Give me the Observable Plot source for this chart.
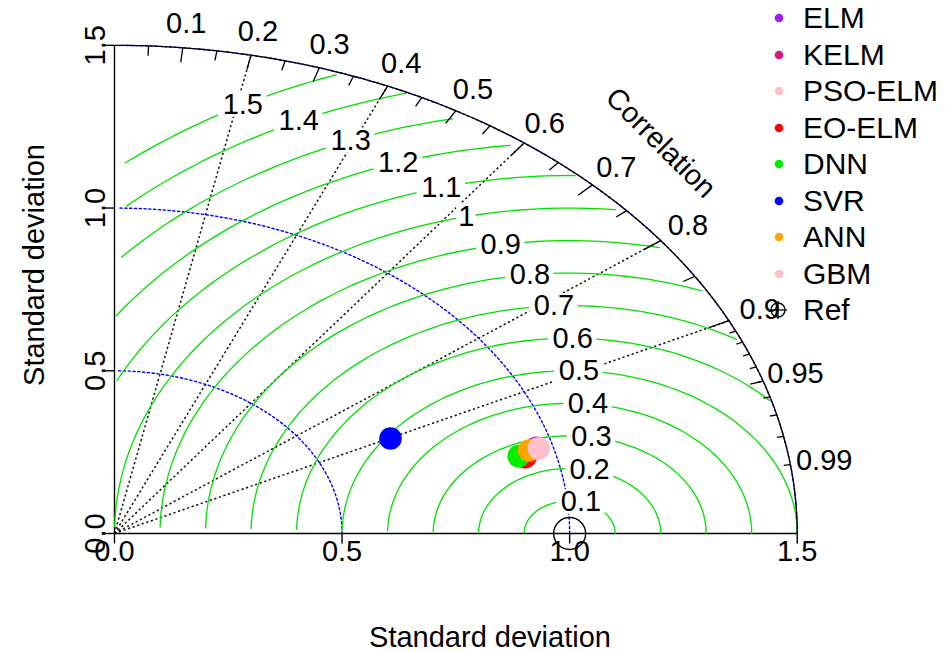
<!DOCTYPE html>
<html>
<head>
<meta charset="utf-8">
<script src="https://cdn.jsdelivr.net/npm/d3@7"></script>
<script src="https://cdn.jsdelivr.net/npm/@observablehq/plot@0.6"></script>
<style>
  html, body { margin: 0; padding: 0; background: #ffffff; }
  #wrap { position: relative; width: 945px; height: 651px; font-family: "Liberation Sans", Arial, sans-serif; }
  #legend { position: absolute; left: 0; top: 0; width: 945px; height: 651px; pointer-events: none; }
  .lg-row { position: absolute; left: 760px; height: 36px; display: flex; align-items: center; font-size: 30px; color: #000; white-space: nowrap; }
  .lg-row svg { width: 40px; height: 36px; flex: none; }
  .lg-row span { margin-left: 3px; line-height: 36px; }
</style>
</head>
<body>
<div id="wrap"><div id="chart"></div><div id="legend"></div></div>
<script>
// ---------------- data ----------------
const models    = ["ELM", "KELM", "PSO-ELM", "EO-ELM", "DNN", "SVR", "ANN", "GBM"];
const colors    = ["#A020F0", "#DB1580", "#FFC0CB", "#FF0000", "#00EE00", "#0000FF", "#FFA500", "#FFC0CB"];
const sdValues  = [0.964, 0.958, 0.965, 0.932, 0.919, 0.673, 0.946, 0.968];
const corValues = [0.962, 0.963, 0.963, 0.968, 0.966, 0.901, 0.963, 0.963];
const refSd = 1.0;
const maxSd = 1.5;
const axisTicks = [0, 0.5, 1.0, 1.5];
const sdArcs = [0.5, 1.0, 1.5];
const gammaValues = [0.1, 0.2, 0.3, 0.4, 0.5, 0.6, 0.7, 0.8, 0.9, 1.0, 1.1, 1.2, 1.3, 1.4, 1.5];
const corrLines = [0.2, 0.4, 0.6, 0.8, 0.9];
const corrLabels = [0.1, 0.2, 0.3, 0.4, 0.5, 0.6, 0.7, 0.8, 0.9, 0.95, 0.99];
const bigTicks = [0.1, 0.2, 0.3, 0.4, 0.5, 0.6, 0.7, 0.8, 0.9];
const medTicks = [0.05, 0.15, 0.25, 0.35, 0.45, 0.55, 0.65, 0.75, 0.85, 0.95];
const smlTicks = [0.91, 0.92, 0.93, 0.94, 0.95, 0.96, 0.97, 0.98, 0.99];
const xLabel = "Standard deviation";
const yLabel = "Standard deviation";
const corrTitle = "Correlation";
const refLabel = "Ref";

// ---------------- layout ----------------
const W = 945, H = 651;
const xRange = [114, 865], yRange = [533, -4];
const lim = maxSd * 1.1;
const kx = (xRange[1] - xRange[0]) / lim;
const ky = (yRange[0] - yRange[1]) / lim;
const FS = 29;
const FONT = "'Liberation Sans', Arial, sans-serif";
const green = "#00E000";
const dots = "2.2,2.6";

const ctx = document.createElement("canvas").getContext("2d");
ctx.font = `${FS}px 'Liberation Sans'`;

// model points
const points = models.map((m, i) => ({
  name: m, color: colors[i],
  x: sdValues[i] * corValues[i],
  y: sdValues[i] * Math.sqrt(1 - corValues[i] * corValues[i])
}));

// blue sd arcs
const sdArcPts = [];
sdArcs.forEach(r => d3.range(0, Math.PI / 2, 0.03).forEach(a => sdArcPts.push({r, x: r * Math.cos(a), y: r * Math.sin(a)})));

// outer arc
const outerPts = d3.range(0, Math.PI / 2, 0.01).map(a => ({x: maxSd * Math.cos(a), y: maxSd * Math.sin(a)}));

// gamma (RMSD) curves & labels, plotrix-like
const gAngles = d3.range(105).map(i => i * 0.03);
const gammaMarks = [];
gammaValues.forEach((g, gi) => {
  const pts = gAngles.map(a => ({x: refSd + Math.cos(a) * g, y: Math.sin(a) * g}));
  let firstNeg = pts.findIndex(p => p.x < 0);
  const end = firstNeg >= 0 ? firstNeg - 1 : 104;
  let lastOut = -1;
  pts.forEach((p, i) => { if (p.x * p.x + p.y * p.y > maxSd * maxSd) lastOut = i; });
  const seg = pts.slice(lastOut + 1, end + 1);
  gammaMarks.push(Plot.line(seg, {x: "x", y: "y", stroke: green, strokeWidth: 1.3}));
  const lp = Math.floor(45 + gi * 25 / (gammaValues.length - 1) + 1e-9);
  const L = pts[lp - 1];
  if (L.x > 0) {
    const txt = String(Math.round(g * 10) / 10);
    const bw = ctx.measureText(txt).width * 1.2;
    const bh = FS * 0.716 * 1.2;
    const lab = [{x: L.x, y: L.y, t: txt, x1: L.x - bw / 2 / kx, x2: L.x + bw / 2 / kx, y1: L.y - bh / 2 / ky, y2: L.y + bh / 2 / ky}];
    gammaMarks.push(Plot.rect(lab, {x1: "x1", x2: "x2", y1: "y1", y2: "y2", fill: "white"}));
    gammaMarks.push(Plot.text(lab, {x: "x", y: "y", text: "t", fill: "black", fontSize: FS}));
  }
});

const radialTicks = (vals, inner) => vals.map(c => {
  const a = Math.acos(c);
  return {x1: maxSd * Math.cos(a), y1: maxSd * Math.sin(a), x2: inner * maxSd * Math.cos(a), y2: inner * maxSd * Math.sin(a)};
});

const tickPx = 10;

const chart = Plot.plot({
  width: W, height: H,
  marginLeft: 0, marginRight: 0, marginTop: 0, marginBottom: 0,
  x: {domain: [0, lim], range: xRange, axis: null},
  y: {domain: [0, lim], range: yRange, axis: null},
  style: {fontFamily: FONT, fontSize: FS + "px", background: "white", overflow: "visible"},
  marks: [
    // correlation rays
    Plot.link(corrLines, {x1: 0, y1: 0, x2: c => maxSd * c, y2: c => maxSd * Math.sqrt(1 - c * c), stroke: "#111", strokeDasharray: dots, strokeWidth: 1.5}),
    // axes
    Plot.link([{x1: 0, y1: 0, x2: 0, y2: maxSd}, {x1: 0, y1: 0, x2: maxSd, y2: 0}], {x1: "x1", y1: "y1", x2: "x2", y2: "y2", stroke: "black", strokeWidth: 1.4}),
    Plot.link(axisTicks, {x1: d => d, x2: d => d, y1: 0, y2: -tickPx / ky, stroke: "black", strokeWidth: 1.4}),
    Plot.link(axisTicks, {y1: d => d, y2: d => d, x1: 0, x2: -tickPx / kx, stroke: "black", strokeWidth: 1.4}),
    Plot.text(axisTicks, {x: d => d, y: 0, text: d => d.toFixed(1), dy: 7, lineAnchor: "top", fontSize: FS}),
    Plot.text(axisTicks, {x: 0, y: d => d, text: d => d.toFixed(1), dx: -19, rotate: -90, fontSize: FS}),
    // sd arcs
    Plot.line(sdArcPts, {x: "x", y: "y", z: "r", stroke: "blue", strokeDasharray: dots, strokeWidth: 1.4}),
    // gamma curves
    ...gammaMarks,
    // outer arc and ticks
    Plot.line(outerPts, {x: "x", y: "y", stroke: "black", strokeWidth: 1.3}),
    Plot.link(radialTicks(bigTicks, 0.97), {x1: "x1", y1: "y1", x2: "x2", y2: "y2", stroke: "black", strokeWidth: 1.3}),
    Plot.dot([refSd], {x: d => d, y: 0, r: 16, stroke: "black", fill: "none", strokeWidth: 1.4}),
    Plot.text(corrLabels, {x: c => 1.05 * maxSd * c, y: c => 1.05 * maxSd * Math.sqrt(1 - c * c), text: c => String(c), fontSize: FS}),
    Plot.text([corrTitle], {x: maxSd * 0.8, y: maxSd * 0.8, text: d => d, rotate: 45, fontSize: FS}),
    Plot.link(radialTicks(medTicks, 0.98), {x1: "x1", y1: "y1", x2: "x2", y2: "y2", stroke: "black", strokeWidth: 1.3}),
    Plot.link(radialTicks(smlTicks, 0.99), {x1: "x1", y1: "y1", x2: "x2", y2: "y2", stroke: "black", strokeWidth: 1.3}),
    // axis titles
    Plot.text([xLabel], {x: lim / 2, y: 0, dy: 104, text: d => d, fontSize: FS}),
    Plot.text([yLabel], {x: 0, y: lim / 2, dx: -80, rotate: -90, text: d => d, fontSize: FS}),
    // model points
    Plot.dot(points, {x: "x", y: "y", r: 11.3, fill: "color", stroke: null})
  ]
});
document.getElementById("chart").appendChild(chart);

// ---------------- legend ----------------
const legend = document.getElementById("legend");
const rowStep = 36.5, rowTop0 = 0;
models.forEach((m, i) => {
  const row = document.createElement("div");
  row.className = "lg-row";
  row.style.top = (rowTop0 + i * rowStep) + "px";
  row.innerHTML = `<svg viewBox="0 0 40 36"><circle cx="19" cy="18" r="4.3" fill="${colors[i]}"/></svg><span>${m}</span>`;
  legend.appendChild(row);
});
{
  const row = document.createElement("div");
  row.className = "lg-row";
  row.style.top = (rowTop0 + models.length * rowStep) + "px";
  row.innerHTML = `<svg viewBox="0 0 40 36"><circle cx="18" cy="18" r="7" fill="none" stroke="black" stroke-width="1.3"/><line x1="9" y1="18" x2="27" y2="18" stroke="black" stroke-width="1.3"/><line x1="18" y1="9" x2="18" y2="27" stroke="black" stroke-width="1.3"/></svg><span>${refLabel}</span>`;
  legend.appendChild(row);
}
</script>
</body>
</html>
